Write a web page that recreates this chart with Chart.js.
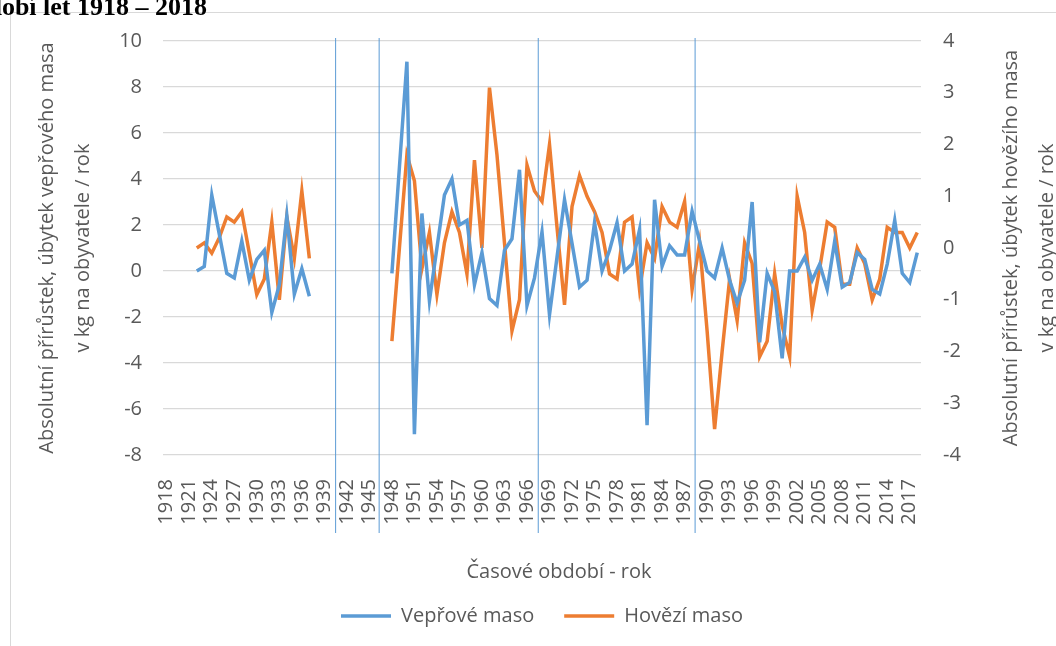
<!DOCTYPE html>
<html>
<head>
<meta charset="utf-8">
<script src="https://cdn.jsdelivr.net/npm/chart.js@4.4.1/dist/chart.umd.min.js"></script>
<style>
  html, body { margin: 0; padding: 0; background: #fff; }
  #wrap { width: 1056px; height: 646px; position: relative; }
</style>
</head>
<body>
<div id="wrap"><canvas id="chart"></canvas></div>
<script>
const years = [
  1918, 1919, 1920, 1921, 1922, 1923, 1924, 1925, 1926, 1927,
  1928, 1929, 1930, 1931, 1932, 1933, 1934, 1935, 1936, 1937,
  1938, 1939, 1940, 1941, 1942, 1943, 1944, 1945, 1946, 1947,
  1948, 1949, 1950, 1951, 1952, 1953, 1954, 1955, 1956, 1957,
  1958, 1959, 1960, 1961, 1962, 1963, 1964, 1965, 1966, 1967,
  1968, 1969, 1970, 1971, 1972, 1973, 1974, 1975, 1976, 1977,
  1978, 1979, 1980, 1981, 1982, 1983, 1984, 1985, 1986, 1987,
  1988, 1989, 1990, 1991, 1992, 1993, 1994, 1995, 1996, 1997,
  1998, 1999, 2000, 2001, 2002, 2003, 2004, 2005, 2006, 2007,
  2008, 2009, 2010, 2011, 2012, 2013, 2014, 2015, 2016, 2017,
  2018
];

const tickYears = [
  1918, 1921, 1924, 1927, 1930, 1933, 1936, 1939, 1942, 1945,
  1948, 1951, 1954, 1957, 1960, 1963, 1966, 1969, 1972, 1975,
  1978, 1981, 1984, 1987, 1990, 1993, 1996, 1999, 2002, 2005,
  2008, 2011, 2014, 2017
];

// vepřové maso, levá osa (kg na obyvatele / rok)
const porkValues = [
  null, null, null, null, 0.0, 0.2, 3.3, 1.6, -0.1, -0.3,
  1.3, -0.4, 0.5, 0.9, -1.8, -0.6, 2.4, -1.0, 0.1, -1.1,
  null, null, null, null, null, null, null, null, null, null,
  -0.1, 4.5, 9.1, -7.1, 2.5, -1.3, 1.0, 3.3, 4.0, 2.0,
  2.2, -0.6, 0.8, -1.2, -1.5, 0.9, 1.4, 4.4, -1.5, -0.3,
  1.7, -1.9, 0.6, 3.1, 1.2, -0.7, -0.4, 2.1, 0.0, 0.9,
  2.1, 0.0, 0.3, 1.8, -6.7, 3.1, 0.2, 1.1, 0.7, 0.7,
  2.6, 1.3, 0.0, -0.3, 1.0, -0.4, -1.4, -0.4, 3.0, -3.1,
  -0.1, -0.9, -3.8, 0.0, 0.0, 0.6, -0.4, 0.3, -0.8, 1.3,
  -0.7, -0.5, 0.8, 0.5, -0.8, -1.0, 0.3, 2.2, -0.1, -0.5,
  0.8
];

// hovězí maso, pravá osa (kg na obyvatele / rok)
const beefValues = [
  null, null, null, null, 0.0, 0.1, -0.1, 0.2, 0.6, 0.5,
  0.7, -0.1, -0.9, -0.6, 0.5, -1.0, 0.6, -0.2, 1.1, -0.2,
  null, null, null, null, null, null, null, null, null, null,
  -1.8, 0.0, 1.8, 1.3, -0.4, 0.3, -0.9, 0.1, 0.7, 0.3,
  -0.5, 1.7, 0.0, 3.1, 1.8, 0.1, -1.6, -1.0, 1.6, 1.1,
  0.9, 2.0, 0.4, -1.1, 0.8, 1.4, 1.0, 0.7, 0.3, -0.5,
  -0.6, 0.5, 0.6, -0.8, 0.1, -0.2, 0.8, 0.5, 0.4, 0.9,
  -0.8, 0.1, -1.6, -3.5, -2.0, -0.6, -1.4, 0.1, -0.3, -2.1,
  -1.8, -0.5, -1.5, -2.1, 1.0, 0.3, -1.2, -0.4, 0.5, 0.4,
  -0.7, -0.7, 0.0, -0.3, -1.0, -0.6, 0.4, 0.3, 0.3, 0.0,
  0.3
];

// svislé čáry mezi obdobími (v letech)
const periodBreaks = [1940.5, 1946.3, 1967.5, 1988.4];

const leftTitle = ['Absolutní přírůstek, úbytek vepřového masa', 'v kg na obyvatele / rok'];
const rightTitle = ['Absolutní přírůstek, úbytek hovězího masa', 'v kg na obyvatele / rok'];

const grey = '#595959';
Chart.defaults.font.family = "'Open Sans', sans-serif";
Chart.defaults.color = grey;

const extras = {
  id: 'extras',
  beforeDraw(chart) {
    const ctx = chart.ctx;
    ctx.save();
    ctx.fillStyle = '#fff';
    ctx.fillRect(0, 0, chart.width, chart.height);
    ctx.strokeStyle = '#d9d9d9';
    ctx.lineWidth = 1;
    ctx.strokeRect(10.5, 12.5, 1100, 700);
    ctx.fillStyle = '#000';
    ctx.font = "bold 26px 'Liberation Serif'";
    ctx.textAlign = 'right';
    ctx.textBaseline = 'alphabetic';
    ctx.fillText('období let 1918 – 2018', 207, 15);
    ctx.restore();
  },
  afterDraw(chart) {
    const { ctx, chartArea, scales } = chart;
    ctx.save();
    ctx.fillStyle = grey;
    ctx.font = "20px 'Open Sans'";
    ctx.textAlign = 'center';
    ctx.textBaseline = 'middle';
    ctx.fillText('Časové období - rok', (chartArea.left + chartArea.right) / 2 + 17, 572);
    const cy = (chartArea.top + chartArea.bottom) / 2;
    ctx.translate(1011.5, cy);
    ctx.rotate(-Math.PI / 2);
    ctx.fillText(rightTitle[0], 0, 0);
    ctx.fillText(rightTitle[1], 0, 35.5);
    ctx.restore();

    ctx.save();
    ctx.strokeStyle = '#5b9bd5';
    ctx.lineWidth = 1;
    periodBreaks.forEach(b => {
      const x = scales.x.getPixelForValue(b - years[0]);
      ctx.beginPath();
      ctx.moveTo(x, 38);
      ctx.lineTo(x, 533);
      ctx.stroke();
    });
    ctx.restore();
  }
};

new Chart(document.getElementById('chart'), {
  type: 'line',
  data: {
    labels: years,
    datasets: [
      {
        label: 'Vepřové maso',
        data: porkValues,
        borderColor: '#5b9bd5',
        backgroundColor: '#5b9bd5',
        borderWidth: 3.5,
        pointRadius: 0,
        tension: 0,
        yAxisID: 'y',
      },
      {
        label: 'Hovězí maso',
        data: beefValues,
        borderColor: '#ed7d31',
        backgroundColor: '#ed7d31',
        borderWidth: 3.5,
        pointRadius: 0,
        tension: 0,
        yAxisID: 'y1',
      },
    ],
  },
  options: {
    responsive: true,
    maintainAspectRatio: false,
    animation: false,
    layout: { padding: { top: 41, left: 0, right: 0, bottom: 10 } },
    plugins: {
      title: { display: false },
      tooltip: { enabled: false },
      legend: {
        position: 'bottom',
        fullSize: false,
        labels: {
          usePointStyle: true,
          pointStyle: 'line',
          pointStyleWidth: 50,
          padding: 30,
          color: grey,
          font: { size: 20 },
        },
      },
    },
    scales: {
      x: {
        offset: true,
        grid: { display: false },
        border: { display: false },
        ticks: {
          autoSkip: false,
          maxRotation: 90,
          minRotation: 90,
          padding: 16,
          color: grey,
          font: { size: 20 },
          callback: function (value, index) {
            const yr = years[index];
            return tickYears.includes(yr) ? String(yr) : '';
          },
        },
        afterFit: (scale) => { scale.height = 121; },
      },
      y: {
        position: 'left',
        min: -8,
        max: 10,
        grid: { color: '#d9d9d9', lineWidth: 1.3, drawTicks: false },
        border: { display: false },
        ticks: { stepSize: 2, padding: 21, color: grey, font: { size: 20 } },
        title: {
          display: true,
          text: leftTitle,
          color: grey,
          font: { size: 20, lineHeight: 1.775 },
          padding: { top: 30, bottom: 0 },
        },
        afterFit: (scale) => { scale.width = 163; },
      },
      y1: {
        position: 'right',
        min: -4,
        max: 4,
        grid: { display: false, drawTicks: false },
        border: { display: false },
        ticks: { stepSize: 1, padding: 22, color: grey, font: { size: 20 } },
        afterFit: (scale) => { scale.width = 135; },
      },
    },
  },
  plugins: [extras],
});
</script>
</body>
</html>
